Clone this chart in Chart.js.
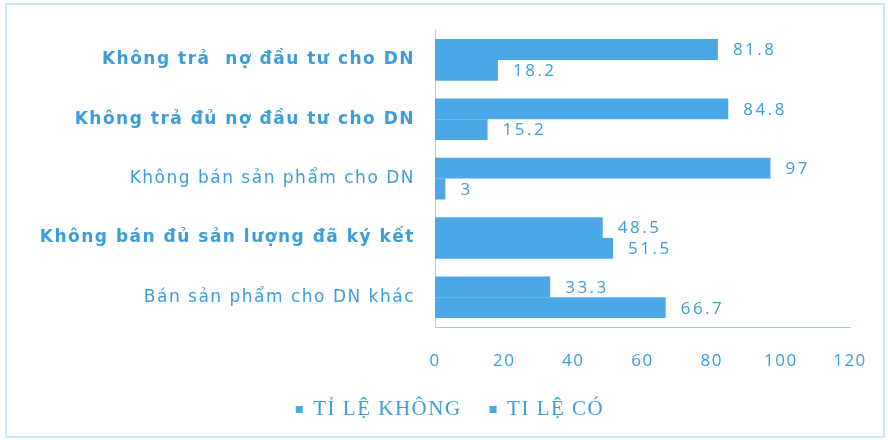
<!DOCTYPE html>
<html>
<head>
<meta charset="utf-8">
<script src="https://cdn.jsdelivr.net/npm/chart.js@4.4.1/dist/chart.umd.min.js"></script>
<style>
  html, body { margin: 0; padding: 0; background: #ffffff; }
  #wrap { width: 888px; height: 440px; }
</style>
</head>
<body>
<div id="wrap"><canvas id="c" width="888" height="440"></canvas></div>
<script>
const categories = [
  "Không trả  nợ đầu tư cho DN",
  "Không trả đủ nợ đầu tư cho DN",
  "Không bán sản phẩm cho DN",
  "Không bán đủ sản lượng đã ký kết",
  "Bán sản phẩm cho DN khác"
];
const seriesNames = ["TỈ LỆ KHÔNG", "TI LỆ CÓ"];
const tiLeKhong = [81.8, 84.8, 97, 48.5, 33.3];
const tiLeCo = [18.2, 15.2, 3, 51.5, 66.7];
const xTicks = [0, 20, 40, 60, 80, 100, 120];

const BAR = '#4ba7e6';
const TXT = '#3b9ddb';
const boldIdx = [0, 1, 3];

const spacing = {
  id: 'spacing',
  beforeLayout(chart) { try { chart.ctx.letterSpacing = '1.5px'; } catch (e) {} },
  afterLayout(chart) {
    if (chart.legend) { chart.legend.left += 20; chart.legend.right += 20; }
  },
  beforeDraw(chart) { try { chart.ctx.letterSpacing = '1.5px'; } catch (e) {} }
};

const frame = {
  id: 'frame',
  beforeDraw(chart) {
    const ctx = chart.ctx;
    ctx.save();
    ctx.fillStyle = '#ffffff';
    ctx.fillRect(0, 0, chart.width, chart.height);
    ctx.strokeStyle = '#c6eaf3';
    ctx.lineWidth = 2;
    ctx.strokeRect(6, 4, 878, 433);
    ctx.restore();
  }
};

const valueLabels = {
  id: 'valueLabels',
  afterDatasetsDraw(chart) {
    const ctx = chart.ctx;
    ctx.save();
    ctx.font = '17px "Open Sans"';
    ctx.fillStyle = TXT;
    ctx.textAlign = 'left';
    ctx.textBaseline = 'middle';
    try { ctx.letterSpacing = '2.5px'; } catch (e) {}
    chart.data.datasets.forEach((ds, di) => {
      const meta = chart.getDatasetMeta(di);
      meta.data.forEach((el, i) => {
        ctx.fillText(String(ds.data[i]), el.x + 15, el.y + 1);
      });
    });
    ctx.restore();
  }
};

new Chart(document.getElementById('c'), {
  type: 'bar',
  data: {
    labels: categories,
    datasets: [
      { label: seriesNames[0], data: tiLeKhong, backgroundColor: BAR, borderWidth: 0 },
      { label: seriesNames[1], data: tiLeCo, backgroundColor: BAR, borderWidth: 0 }
    ]
  },
  options: {
    indexAxis: 'y',
    responsive: false,
    animation: false,
    devicePixelRatio: 1,
    categoryPercentage: 0.7,
    barPercentage: 1.0,
    layout: { padding: { left: 10, right: 38, top: 28, bottom: 10 } },
    scales: {
      y: {
        grid: { display: false, drawTicks: false },
        border: { display: true, color: '#9fd0ec', width: 1 },
        afterFit(scale) { scale.width = 425; },
        ticks: {
          padding: 20,
          color: TXT,
          font: (ctx) => boldIdx.includes(ctx.index)
            ? { family: '"DejaVu Sans", sans-serif', size: 17, weight: 'bold' }
            : { family: '"DejaVu Sans", sans-serif', size: 17, weight: 'normal' }
        }
      },
      x: {
        min: 0,
        max: 120,
        afterBuildTicks(scale) { scale.ticks = xTicks.map(v => ({ value: v })); },
        grid: { display: false, drawTicks: false },
        border: { display: true, color: '#9fd0ec', width: 1 },
        afterFit(scale) { scale.height = 44; scale.paddingRight = 0; scale.paddingLeft = 0; },
        ticks: {
          padding: 24,
          color: TXT,
          font: { family: '"Open Sans", sans-serif', size: 17 }
        }
      }
    },
    plugins: {
      legend: {
        position: 'bottom',
        labels: {
          color: TXT,
          boxWidth: 7,
          boxHeight: 7,
          padding: 28,
          font: { family: '"Liberation Serif", serif', size: 21 }
        }
      },
      tooltip: { enabled: false }
    }
  },
  plugins: [spacing, frame, valueLabels]
});
</script>
</body>
</html>
